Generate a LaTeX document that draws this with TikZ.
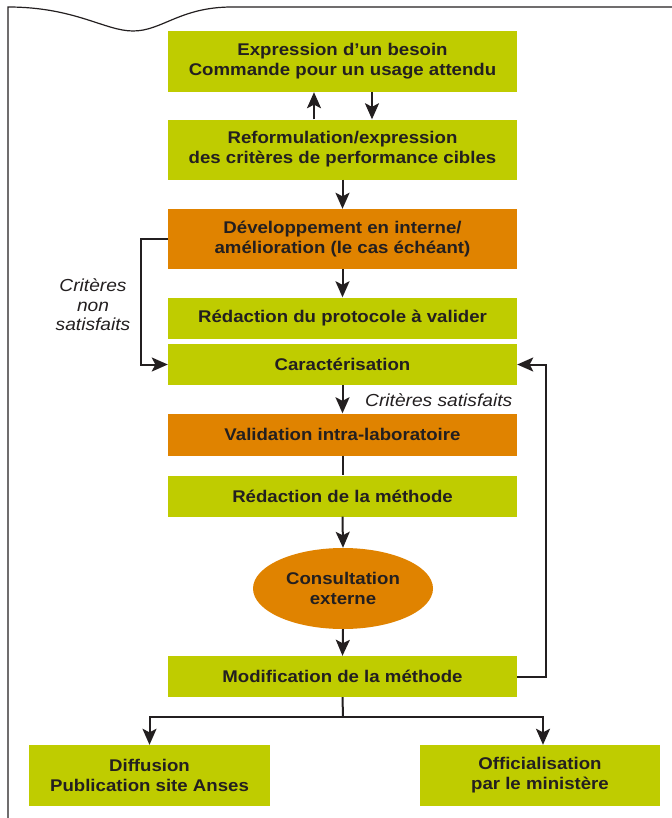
\documentclass[tikz,border=0pt]{standalone}
\usepackage{fontspec}
\setmainfont[FakeStretch=1.1]{Liberation Sans}
\usetikzlibrary{arrows.meta,shapes.geometric,calc}
\definecolor{vert}{RGB}{191,204,0}
\definecolor{orange}{RGB}{224,131,0}
\definecolor{encre}{RGB}{35,31,32}
\begin{document}
\begin{tikzpicture}[x=1bp,y=-1bp,
  box/.style={rectangle,fill=vert,minimum width=349bp,inner sep=0pt,align=center,
    font=\fontsize{17}{20}\selectfont\bfseries,text=encre},
  obox/.style={box,fill=orange},
  arr/.style={line width=2bp,draw=encre,-{Stealth[length=16bp,width=14bp,inset=3.5bp]}},
  ln/.style={line width=2bp,draw=encre},
  lab/.style={font=\fontsize{17.5}{19.5}\selectfont\itshape,text=encre,align=center,inner sep=0pt}]
\useasboundingbox (0,0) rectangle (672,818);
\draw[line width=1.2bp,encre] (8,820) -- (8,7) .. controls (75,7) and (105,31) .. (133,31)
  .. controls (162,31) and (180,7) .. (232,7) -- (674,7);
\node[box,minimum height=61bp] (B1) at (342.5,61.5) {Expression d’un besoin\\Commande pour un usage attendu};
\node[box,minimum height=60bp] (B2) at (342.5,149.5) {Reformulation/expression\\des critères de performance cibles};
\node[obox,minimum height=60bp] (B3) at (342.5,239) {Développement en interne/\\amélioration (le cas échéant)};
\node[box,minimum height=41bp] (B4) at (342.5,318) {Rédaction du protocole à valider};
\node[box,minimum height=41bp] (B5) at (342.5,364.5) {Caractérisation};
\node[obox,minimum height=42bp] (B6) at (342.5,434.5) {Validation intra-laboratoire};
\node[box,minimum height=41bp] (B7) at (342.5,496) {Rédaction de la méthode};
\node[ellipse,fill=orange,minimum width=180bp,minimum height=81bp,inner sep=0pt,align=center,
  font=\fontsize{17}{20}\selectfont\bfseries,text=encre] (E) at (343,588.5) {Consultation\\externe};
\node[box,minimum height=41bp] (B9) at (342.5,676.5) {Modification de la méthode};
\node[box,minimum width=240bp,minimum height=61bp] (B10) at (149.5,775.5) {Diffusion\\Publication site Anses};
\node[box,minimum width=240bp,minimum height=61bp] (B11) at (540,775.5) {Officialisation\\par le ministère};
\node[lab] (L1) at (93,305) {Critères\\non\\satisfaits};
\node[lab,anchor=west] (L2) at (365,400) {Critères satisfaits};
\coordinate (J) at (343,717);
\draw[arr] ([xshift=-28.5bp]B2.north) -- ([xshift=-28.5bp]B1.south);
\draw[arr] ([xshift=29.5bp]B1.south) -- ([xshift=29.5bp]B2.north);
\draw[arr] (B2.south) -- (B3.north);
\draw[arr] (B3.south) -- (B4.north);
\draw[arr] (B5.south) -- (B6.north);
\draw[ln] (B6.south) -- (B7.north);
\draw[arr] (B7.south) -- (E.north);
\draw[arr] (E.south) -- (B9.north);
\draw[arr] (B3.west) -- ++(-27,0) |- (B5.west);
\draw[arr] (B9.east) -- ++(29,0) |- (B5.east);
\draw[ln] (B9.south) -- (J);
\draw[arr] (J) -| (B10.north);
\draw[arr] (J) -| ([xshift=3bp]B11.north);
\end{tikzpicture}
\end{document}
